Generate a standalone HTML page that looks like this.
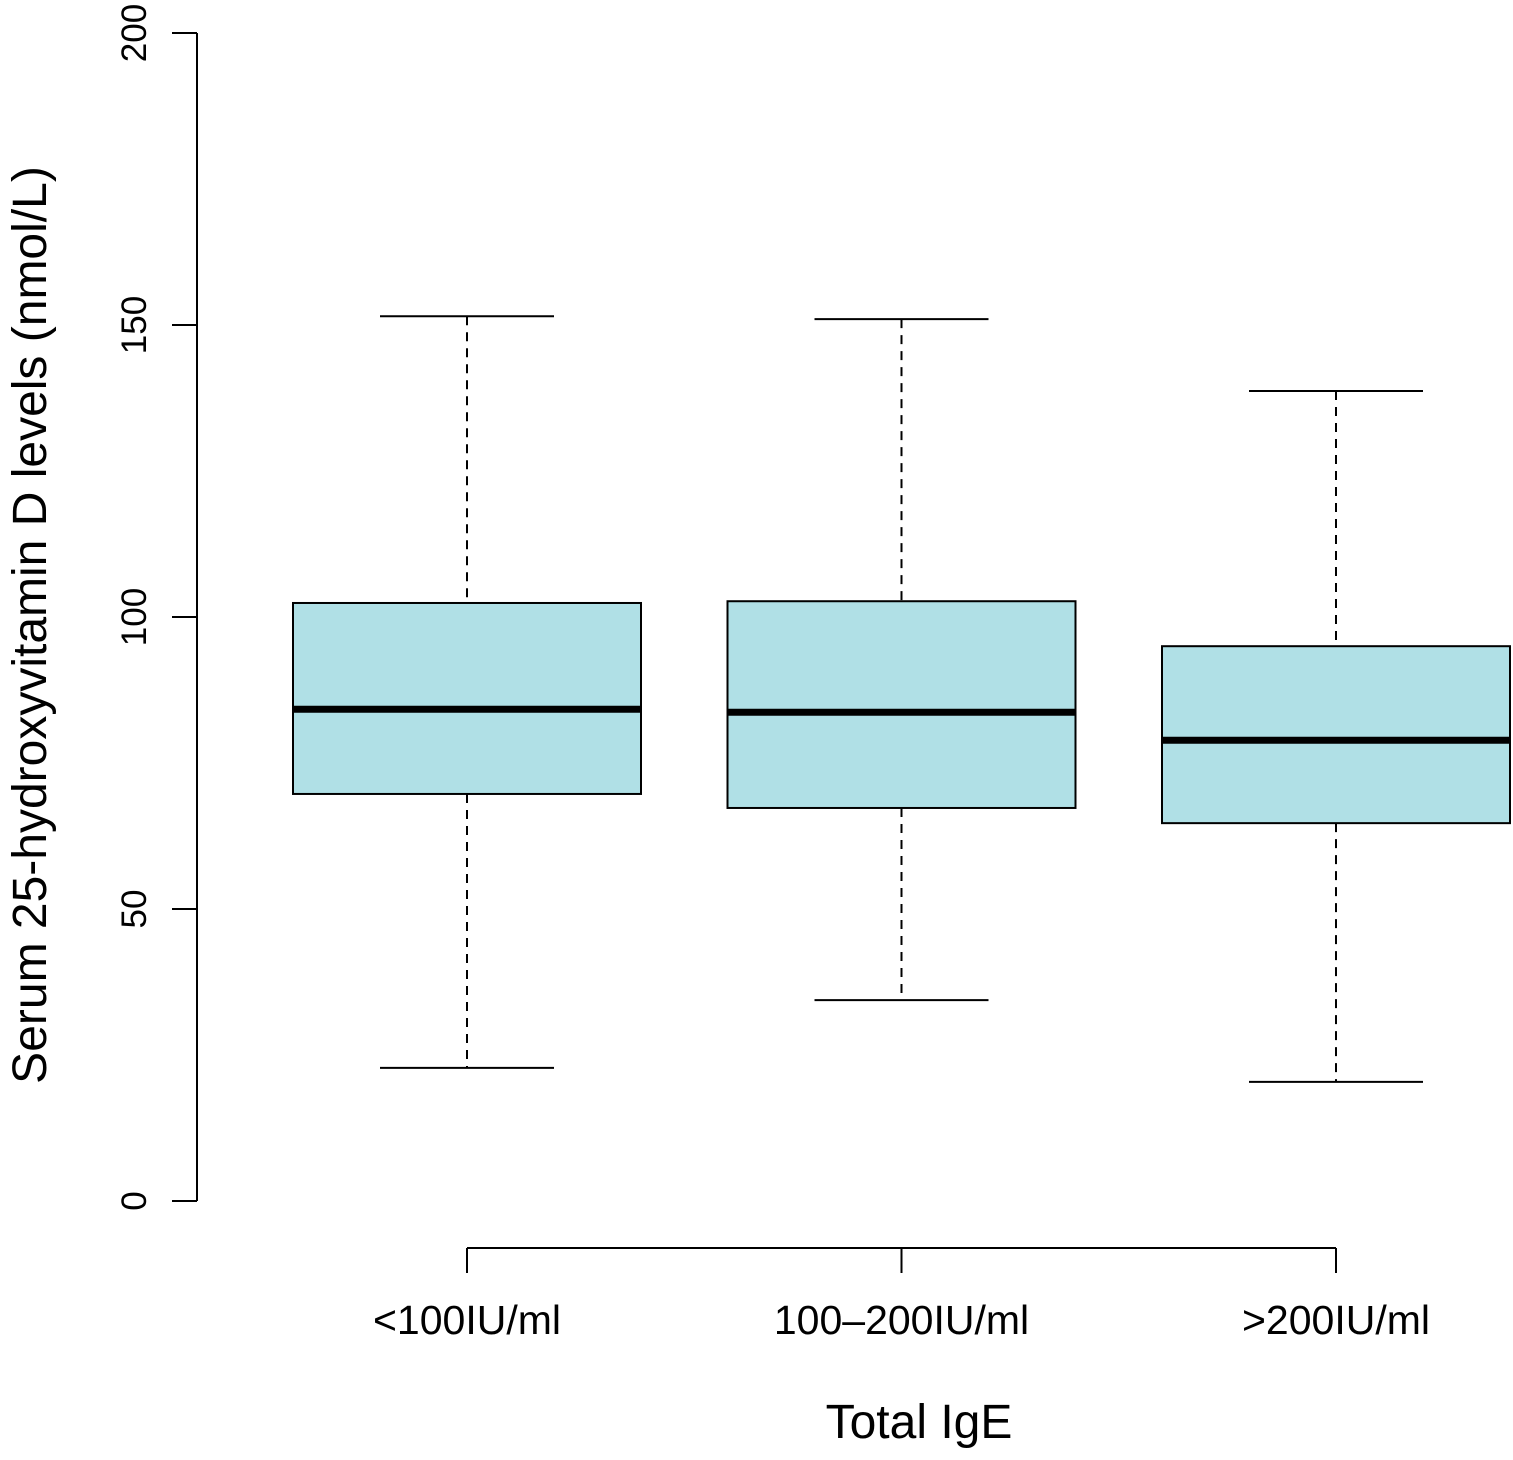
<!DOCTYPE html>
<html><head><meta charset="utf-8"><style>
html,body{margin:0;padding:0;background:#fff}
svg{display:block;font-family:"Liberation Sans",Arial,sans-serif}
</style></head><body>
<svg id="chart" width="1513" height="1460" viewBox="0 0 1513 1460"></svg>
<script>
const categories = ["<100IU/ml","100\u2013200IU/ml",">200IU/ml"];
const whiskerLow = [22.8, 34.4, 20.4];
const q1 = [69.7, 67.3, 64.7];
const median = [84.2, 83.7, 78.9];
const q3 = [102.4, 102.7, 95.0];
const whiskerHigh = [151.5, 151.0, 138.7];
const yTicks = [0, 50, 100, 150, 200];

const NS = "http://www.w3.org/2000/svg";
const svg = document.getElementById("chart");
function y(v){ return 1201 - v * (1168/200); }
function x(i){ return 467 + i * 434.5; }
function mk(tag, attrs, parent){
  const e = document.createElementNS(NS, tag);
  for (const k in attrs) e.setAttribute(k, attrs[k]);
  (parent||svg).appendChild(e);
  return e;
}
// y axis
const yAxis = mk("g", {});


mk("line", {x1:197, x2:197, y1:y(0), y2:y(200), stroke:"#000", "stroke-width":2}, yAxis);
yTicks.forEach(t => {
  mk("line", {x1:172, x2:197, y1:y(t), y2:y(t), stroke:"#000", "stroke-width":2}, yAxis);
  const tx = mk("text", {x:0, y:0, transform:`translate(146,${y(t)}) rotate(-90)`, "text-anchor":"middle", "font-size":35}, yAxis);
  tx.textContent = t;
  
  
});
const yt = mk("text", {transform:"translate(46,625) rotate(-90)", "text-anchor":"middle", "font-size":48});
yt.textContent = "Serum 25-hydroxyvitamin D levels (nmol/L)";


// x axis
const xAxis = mk("g", {});


mk("line", {x1:x(0), x2:x(categories.length-1), y1:1248, y2:1248, stroke:"#000", "stroke-width":2}, xAxis);
categories.forEach((c,i) => {
  mk("line", {x1:x(i), x2:x(i), y1:1248, y2:1273, stroke:"#000", "stroke-width":2}, xAxis);
  const t = mk("text", {x:x(i), y:1334, "text-anchor":"middle", "font-size":41}, xAxis);
  t.textContent = c;
  
  
});
const xt = mk("text", {x:919, y:1438, "text-anchor":"middle", "font-size":48});
xt.textContent = "Total IgE";


// boxes
categories.forEach((c,i) => {
  const g = mk("g", {});
  
  
  const cx = x(i), hw = 174, cw = 87;
  mk("line", {x1:cx, x2:cx, y1:y(whiskerHigh[i]), y2:y(q3[i]), stroke:"#000", "stroke-width":2, "stroke-dasharray":"9,7"}, g);
  mk("line", {x1:cx, x2:cx, y1:y(q1[i]), y2:y(whiskerLow[i]), stroke:"#000", "stroke-width":2, "stroke-dasharray":"9,7"}, g);
  mk("line", {x1:cx-cw, x2:cx+cw, y1:y(whiskerHigh[i]), y2:y(whiskerHigh[i]), stroke:"#000", "stroke-width":2}, g);
  mk("line", {x1:cx-cw, x2:cx+cw, y1:y(whiskerLow[i]), y2:y(whiskerLow[i]), stroke:"#000", "stroke-width":2}, g);
  mk("rect", {x:cx-hw, y:y(q3[i]), width:2*hw, height:y(q1[i])-y(q3[i]), fill:"#b0e0e6", stroke:"#000", "stroke-width":2}, g);
  mk("line", {x1:cx-hw, x2:cx+hw, y1:y(median[i]), y2:y(median[i]), stroke:"#000", "stroke-width":7}, g);
});
</script>
</body></html>
